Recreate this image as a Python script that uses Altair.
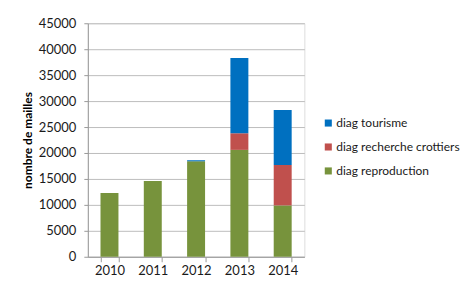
import altair as alt
import pandas as pd

years = ["2010", "2011", "2012", "2013", "2014"]
reproduction = [12300, 14600, 18400, 20600, 9900]
crottiers = [0, 0, 0, 3200, 7800]
tourisme = [0, 0, 200, 14500, 10600]

series = ["diag tourisme", "diag recherche crottiers", "diag reproduction"]
colors = ["#0070C0", "#C0504D", "#77933C"]

rows = []
for i, y in enumerate(years):
    rows.append({"annee": y, "serie": "diag reproduction", "valeur": reproduction[i], "ordre": 0})
    rows.append({"annee": y, "serie": "diag recherche crottiers", "valeur": crottiers[i], "ordre": 1})
    rows.append({"annee": y, "serie": "diag tourisme", "valeur": tourisme[i], "ordre": 2})
df = pd.DataFrame(rows)

FONT = "Lato"

bars = alt.Chart(df).mark_bar(size=18).encode(
    x=alt.X("annee:N", sort=years, title=None,
            scale=alt.Scale(paddingInner=0.58, paddingOuter=0.29),
            axis=alt.Axis(labelAngle=0, ticks=True, tickBand="extent", tickSize=5,
                          domainColor="#9a9a9a", tickColor="#9a9a9a",
                          labelPadding=3, labelFontSize=13, labelColor="#1a1a1a",
                          grid=False)),
    y=alt.Y("valeur:Q", stack="zero", title="nombre de mailles",
            scale=alt.Scale(domain=[0, 45000], nice=False),
            axis=alt.Axis(values=list(range(0, 45001, 5000)), format="d", tickSize=4,
                          domainColor="#9a9a9a", tickColor="#9a9a9a",
                          gridColor="#bdbdbd", labelPadding=8, labelFontSize=13,
                          labelColor="#1a1a1a", titleFontSize=12, titleFontWeight="bold",
                          titleColor="#000000", titlePadding=4)),
    color=alt.Color("serie:N", scale=alt.Scale(domain=series, range=colors),
                    legend=alt.Legend(title=None, orient="none", legendX=235, legendY=94,
                                      symbolType="square", symbolSize=50,
                                      symbolStrokeWidth=0, labelFontSize=12,
                                      labelColor="#1a1a1a", rowPadding=12,
                                      labelOffset=2, labelLimit=300)),
    order=alt.Order("ordre:Q"),
)

chart = bars.properties(
    width=217, height=234,
    autosize=alt.AutoSizeParams(type="none"),
    padding={"left": 80, "top": 15, "right": 158, "bottom": 23},
    background="white",
).configure_view(stroke=None).configure(font=FONT)

chart.save("out.html", embed_options={"renderer": "svg", "actions": False})
